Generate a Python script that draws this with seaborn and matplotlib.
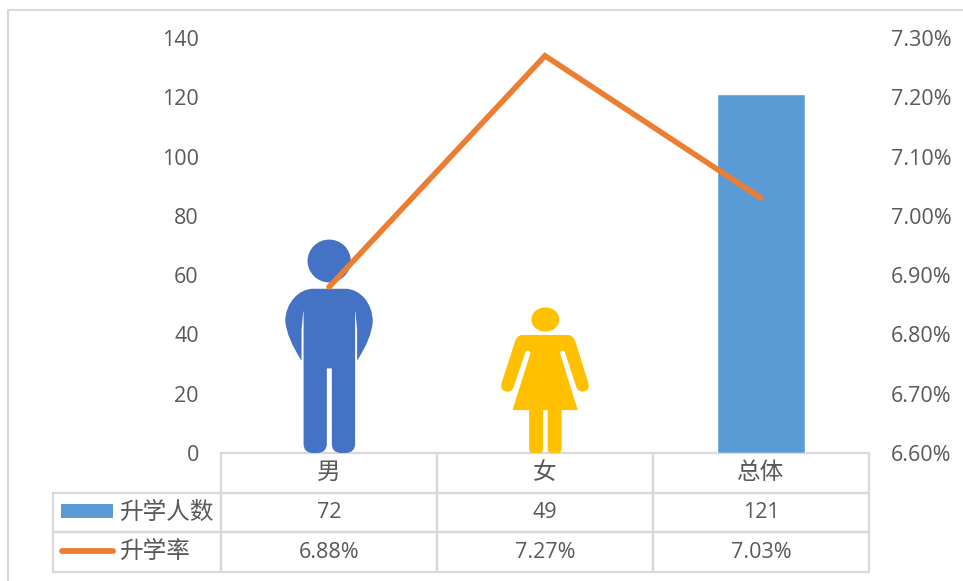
import numpy as np
import pandas as pd
import matplotlib
matplotlib.use('Agg')
import matplotlib.pyplot as plt
import seaborn as sns
from matplotlib.lines import Line2D
from matplotlib.patches import PathPatch, Rectangle
from matplotlib.path import Path
from matplotlib.transforms import Affine2D

# Data
categories = ['男', '女', '总体']
students = [72, 49, 121]
rate = [6.88, 7.27, 7.03]
row_names = ['升学人数', '升学率']
rate_ticks = [6.6, 6.7, 6.8, 6.9, 7.0, 7.1, 7.2, 7.3]
count_ticks = [0, 20, 40, 60, 80, 100, 120, 140]

BAR_BLUE = '#5B9BD5'
MAN_BLUE = '#4472C4'
WOMAN_GOLD = '#FFC000'
ORANGE = '#ED7D31'
GRID = '#D9D9D9'
TEXT = '#595959'

W, H = 963, 581

sns.set_theme(style='white')
plt.rcParams['font.family'] = ['Open Sans', 'Noto Sans CJK SC', 'DejaVu Sans']

M, L, Q, C, Z = Path.MOVETO, Path.LINETO, Path.CURVE3, Path.CURVE4, Path.CLOSEPOLY


def outline(steps):
    # steps: (code, point, point...) with the points in drawing units
    verts, codes = [], []
    for step in steps:
        for p in step[1:]:
            verts.append(p)
            codes.append(step[0])
    verts.append(verts[0])
    codes.append(Z)
    return Path(verts, codes)


def ellipse(cx, cy, rx, ry):
    return Affine2D().scale(rx, ry).translate(cx, cy).transform_path(Path.unit_circle())


# Icons are drawn in their own box, then fitted to the bar they replace
man_box = (45, 308, 30, 668)
man = Path.make_compound_path(
    ellipse(177, 94, 65, 64),
    outline([
        (M, (130, 177)), (L, (225, 177)),
        (C, (270, 177), (308, 220), (308, 275)),
        (Q, (305, 325), (261, 392)),
        (L, (261, 300), (256, 245), (255, 245), (255, 640)),
        (Q, (255, 668), (225, 668)), (L, (213, 668)),
        (Q, (185, 668), (185, 640)), (L, (185, 415), (170, 415), (170, 640)),
        (Q, (170, 668), (140, 668)), (L, (128, 668)),
        (Q, (100, 668), (100, 640)), (L, (100, 245), (99, 245), (94, 300), (94, 392)),
        (Q, (50, 325), (45, 275)),
        (C, (45, 220), (85, 177), (130, 177)),
    ]),
)

woman_box = (693, 957, 235, 668)
woman = Path.make_compound_path(
    ellipse(826, 270, 42, 36),
    outline([
        (M, (755, 316)), (L, (895, 316)),
        (Q, (912, 318), (918, 340)), (L, (956, 460)),
        (Q, (962, 484), (938, 485)), (Q, (924, 485), (919, 470)),
        (L, (884, 365)), (Q, (875, 358), (870, 370)),
        (L, (924, 540), (875, 540), (875, 655)),
        (Q, (875, 668), (862, 668)), (L, (846, 668)),
        (Q, (833, 668), (833, 655)), (L, (833, 540), (819, 540), (819, 655)),
        (Q, (819, 668), (806, 668)), (L, (790, 668)),
        (Q, (777, 668), (777, 655)), (L, (777, 540), (727, 540), (781, 370)),
        (Q, (776, 358), (767, 365)), (L, (731, 470)),
        (Q, (726, 485), (712, 485)), (Q, (688, 484), (694, 460)),
        (L, (733, 340)), (Q, (739, 318), (755, 316)),
    ]),
)


def fit_icon(path, box, bar):
    x0, x1, y0, y1 = box
    t = (Affine2D().translate(-x0, -y1).scale(1 / (x1 - x0), -1 / (y1 - y0))
         .scale(bar.get_width(), bar.get_height()).translate(bar.get_x(), bar.get_y()))
    return t.transform_path(path)


df = pd.DataFrame({'category': categories, 'students': students})

fig = plt.figure(figsize=(W / 100, H / 100), dpi=100, facecolor='white')
ax = fig.add_axes([221 / W, 1 - 453 / H, 648 / W, 415 / H])

sns.barplot(data=df, x='category', y='students', color=BAR_BLUE, width=0.405,
            saturation=1, ax=ax, zorder=2)
ax.set_xlim(-0.5, 2.5)
ax.set_ylim(0, 140)
ax.set_yticks(count_ticks)
ax.set_xlabel('')
ax.set_ylabel('')
ax.set_xticks([])
ax.tick_params(axis='y', length=0, pad=16, labelsize=15.5, labelcolor=TEXT)
ax.grid(False)
sns.despine(ax=ax, left=True, bottom=True)

# The first two bars are shown as people
for bar, (path, box, colour) in zip(ax.patches, [(man, man_box, MAN_BLUE), (woman, woman_box, WOMAN_GOLD)]):
    ax.add_patch(PathPatch(fit_icon(path, box, bar), facecolor=colour, edgecolor='none', zorder=2))
    bar.set_visible(False)

ax2 = ax.twinx()
sns.lineplot(x=np.arange(len(categories)), y=rate, color=ORANGE, linewidth=4, ax=ax2,
             solid_capstyle='round', solid_joinstyle='miter', zorder=3)
ax2.set_ylim(6.6, 7.3)
ax2.set_yticks(rate_ticks, [f'{v:.2f}%' for v in rate_ticks])
ax2.set_ylabel('')
ax2.tick_params(axis='y', length=0, pad=16, labelsize=15.5, labelcolor=TEXT)
ax2.grid(False)
sns.despine(ax=ax2, left=True, bottom=True, right=True)

# Data table under the plot, first column holds the legend
rows = [[''] + categories,
        [row_names[0]] + [str(v) for v in students],
        [row_names[1]] + [f'{v:.2f}%' for v in rate]]
label_w = 168 / 648
table = ax.table(cellText=rows, cellLoc='center', colWidths=[label_w, 1 / 3, 1 / 3, 1 / 3],
                 bbox=[-label_w, -119 / 415, 1 + label_w, 119 / 415])
table.auto_set_font_size(False)
table.set_fontsize(15.5)
for (r, c), cell in table.get_celld().items():
    cell.set_edgecolor(GRID)
    cell.set_linewidth(1.6)
    cell.set_facecolor('none')
    cell.get_text().set_color(TEXT)
    if r == 0 or c == 0:
        cell.set_fontsize(17)
    if c == 0:
        cell.visible_edges = 'open' if r == 0 else 'closed'
        cell.get_text().set_horizontalalignment('left')
        cell.PAD = 66 / 168

# Legend keys in pixel positions inside the first column
fig.add_artist(Rectangle((61 / W, 1 - 518 / H), 52 / W, 14 / H, transform=fig.transFigure,
                         facecolor=BAR_BLUE, edgecolor='none'))
fig.add_artist(Line2D([62 / W, 113 / W], [1 - 551 / H, 1 - 551 / H], transform=fig.transFigure,
                      color=ORANGE, linewidth=4.2, solid_capstyle='round'))

# Chart area border
fig.add_artist(Rectangle((8 / W, -0.1), 1.1, 1 - 10 / H + 0.1, transform=fig.transFigure,
                         facecolor='none', edgecolor=GRID, linewidth=1.6))

fig.savefig('out.png', dpi=100)
